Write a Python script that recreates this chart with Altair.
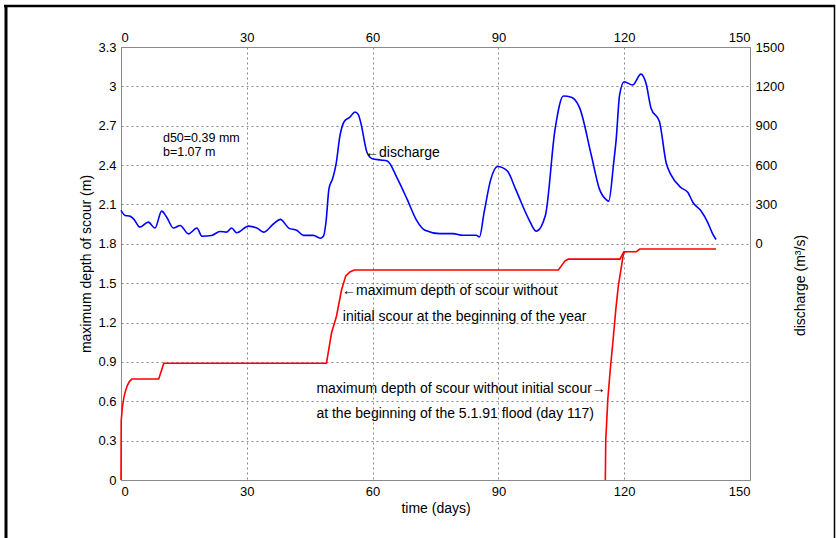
import altair as alt
import pandas as pd

# ---- discharge (m^3/s) vs time (days) ----
q_day = [0, 1, 2.1, 3, 4.5, 6.5, 8.1, 9.7, 10.9, 12.5, 14.1, 16.1, 18.1, 19.3, 21.6, 23.6,
         25.2, 26.4, 27.6, 30.4, 32.4, 34, 36.4, 38, 40, 42, 43.5, 45.9, 47.5, 48.3, 48.9,
         49.6, 50.5, 51.3, 52.2, 53.2, 54.6, 55.8, 56.6, 57.2, 58.7, 59.9, 61.9, 63.5, 65.8,
         68.2, 70.5, 72.5, 76, 79.2, 81.5, 84.7, 85.5, 86.6, 88.2, 89.8, 92.1, 94.1, 97.2,
         99, 101.2, 103.5, 105.5, 107.4, 109.4, 112.2, 114.1, 115.7, 116.3, 117.5, 118.1,
         118.9, 120, 122, 124, 125.2, 126.4, 128.4, 130, 131.1, 133.5, 135.2, 136.4, 138.3,
         139.9, 141.1, 141.9]
q_val = [255, 216, 211, 190, 127, 165, 120, 249, 203, 120, 140, 76, 120, 58, 64, 94,
         89, 120, 84, 135, 120, 89, 153, 186, 120, 102, 64, 64, 43, 60, 170,
         420, 500, 610, 820, 930, 966, 1005, 985, 920, 694, 649, 639, 631, 505,
         342, 179, 103, 78, 78, 65, 65, 53, 241, 493, 589, 556, 417, 191,
         96, 216, 870, 1127, 1117, 1034, 669, 417, 337, 325, 620, 800,
         1134, 1235, 1210, 1293, 1223, 1034, 933, 618, 529, 429, 391, 315, 252,
         164, 76, 33]

# ---- max scour depth without initial scour at the beginning of the year ----
s1_day = [0, 0.05, 0.3, 0.7, 1.0, 1.5, 2.0, 2.6, 9.0, 10.2, 49.0, 50.2, 51.4, 52.6, 53.6,
          54.6, 55.6, 104.3, 105.9, 106.7, 119.0, 119.9, 122.9, 123.7, 141.9]
s1_depth = [0, 0.45, 0.55, 0.63, 0.67, 0.72, 0.75, 0.77, 0.77, 0.89, 0.89, 1.12, 1.25, 1.45,
            1.556, 1.585, 1.60, 1.60, 1.67, 1.683, 1.683, 1.74, 1.74, 1.76, 1.76]

# ---- max scour depth without initial scour at the beginning of the 5.1.91 flood ----
s2_day = [115.5, 115.6, 116.1, 116.7, 117.3, 118.0, 118.6, 119.2, 119.8, 120.2]
s2_depth = [0, 0.3, 0.62, 0.85, 1.05, 1.3, 1.48, 1.6, 1.72, 1.74]

x_ticks = [0, 30, 60, 90, 120, 150]
y_ticks = [0, 0.3, 0.6, 0.9, 1.2, 1.5, 1.8, 2.1, 2.4, 2.7, 3.0, 3.3]
q_ticks = [0, 300, 600, 900, 1200, 1500]

ann_small_text = ["d50=0.39 mm", "b=1.07 m"]
ann_small_day = [10, 10]
ann_small_depth = [2.607, 2.5]

ann_text = ["\u2190discharge",
            "\u2190maximum depth of scour without",
            "initial scour at the beginning of the year",
            "maximum depth of scour without initial scour\u2192",
            "at the beginning of the 5.1.91 flood (day 117)"]
ann_day = [58.2, 52.7, 52.9, 46.6, 46.6]
ann_depth = [2.495, 1.44, 1.246, 0.69, 0.5]

FONT = "Liberation Sans"

q_df = pd.DataFrame({"day": q_day, "q": q_val, "i": range(len(q_day))})
s_df = pd.DataFrame({
    "day": s1_day + s2_day,
    "depth": s1_depth + s2_depth,
    "series": ["year"] * len(s1_day) + ["flood"] * len(s2_day),
    "i": list(range(len(s1_day))) + list(range(len(s2_day))),
})
ann_df = pd.DataFrame({"t": ann_text, "day": ann_day, "depth": ann_depth})
ann2_df = pd.DataFrame({"t": ann_small_text, "day": ann_small_day, "depth": ann_small_depth})

xs = alt.Scale(domain=[0, 150], nice=False, zero=False)
ys = alt.Scale(domain=[0, 3.3], nice=False)
qs = alt.Scale(domain=[-1800, 1500], nice=False)

grid_kw = dict(grid=True, gridColor="#8a8a8a", gridDash=[2, 3], gridWidth=1)

red = alt.Chart(s_df).mark_line(color="#ff0000", strokeWidth=1.6).encode(
    x=alt.X("day:Q", scale=xs,
            axis=alt.Axis(orient="bottom", values=x_ticks, title="time (days)",
                          titlePadding=3, labelPadding=5, **grid_kw)),
    y=alt.Y("depth:Q", scale=ys,
            axis=alt.Axis(orient="left", values=y_ticks, title="maximum depth of scour (m)",
                          format="~g", titlePadding=4, labelPadding=5, **grid_kw)),
    detail="series:N",
    order="i:Q",
)

blue = alt.Chart(q_df).mark_line(color="#0000ff", strokeWidth=1.6, interpolate="monotone").encode(
    x=alt.X("day:Q", scale=xs,
            axis=alt.Axis(orient="top", values=x_ticks, title=None, grid=False, labelPadding=3)),
    y=alt.Y("q:Q", scale=qs,
            axis=alt.Axis(orient="right", values=q_ticks, title="discharge (m\u00b3/s)",
                          format="d", grid=False, labelPadding=5, titleAngle=270,
                          titleX=50, titleY=238, titleAlign="center", titleBaseline="middle")),
    order="i:Q",
)

texts = alt.Chart(ann_df).mark_text(align="left", baseline="middle", font=FONT,
                                     fontSize=14, color="black").encode(
    x=alt.X("day:Q", scale=xs, axis=None),
    y=alt.Y("depth:Q", scale=ys, axis=None),
    text="t:N",
)
texts2 = alt.Chart(ann2_df).mark_text(align="left", baseline="middle", font=FONT,
                                       fontSize=12.5, color="black").encode(
    x=alt.X("day:Q", scale=xs, axis=None),
    y=alt.Y("depth:Q", scale=ys, axis=None),
    text="t:N",
)

one = alt.Data(values=[{"a": 1}])
frame_top = alt.Chart(one).mark_rule(color="black", strokeWidth=2.5).encode(
    x=alt.value(-117), x2=alt.value(714), y=alt.value(-41))
frame_left = alt.Chart(one).mark_rule(color="black", strokeWidth=3).encode(
    x=alt.value(-115), y=alt.value(-42), y2=alt.value(495))
frame_right = alt.Chart(one).mark_rule(color="black", strokeWidth=1.5).encode(
    x=alt.value(713.5), y=alt.value(-42), y2=alt.value(495))

chart = alt.layer(red, blue, texts, texts2, frame_top, frame_left, frame_right).resolve_scale(
    y="independent"
).resolve_axis(
    x="independent", y="independent"
).properties(
    width=629, height=433,
    autosize=alt.AutoSizeParams(type="none"),
    padding={"left": 121, "top": 47, "right": 86, "bottom": 58},
    background="white",
).configure_view(
    stroke="#8a8a8a", strokeWidth=1
).configure_axis(
    domain=False, ticks=False,
    labelFont=FONT, labelFontSize=13, labelColor="black",
    titleFont=FONT, titleFontSize=14, titleFontWeight="normal", titleColor="black",
)

chart.save("out.html", embed_options={"renderer": "svg", "actions": False})
